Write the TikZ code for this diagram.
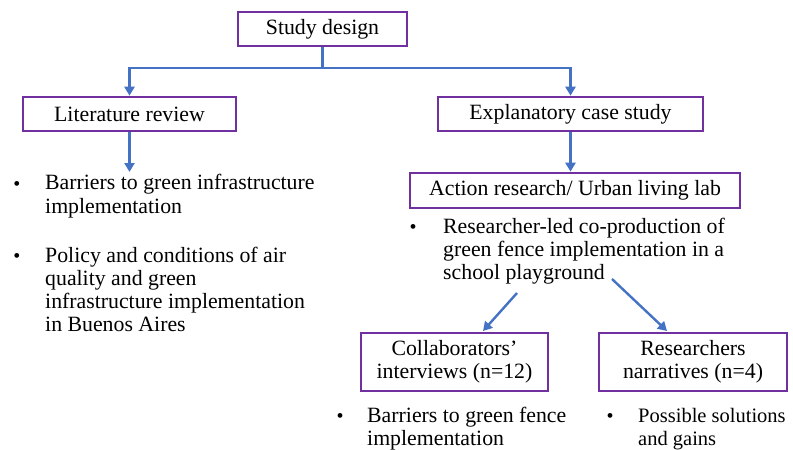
\documentclass[tikz,border=0pt]{standalone}
\usepackage{fontspec}
\setmainfont{Liberation Serif}
\usetikzlibrary{arrows.meta}
\definecolor{boxpurple}{HTML}{7030A0}
\definecolor{arrowblue}{HTML}{4472C4}
\tikzset{
  box/.style={draw=boxpurple, line width=2.6pt, align=center, inner sep=0pt, font=\fontsize{21.8}{23}\selectfont},
  conn/.style={draw=arrowblue, line width=2.4pt},
  arr/.style={conn, -{Triangle[length=9pt,width=10pt]}},
  btext/.style={anchor=base west, align=left, inner sep=0pt, font=\fontsize{21.8}{23.2}\selectfont},
  bdot/.style={anchor=base, inner sep=0pt, font=\fontsize{20}{23}\selectfont}
}
\begin{document}
\begin{tikzpicture}[x=1pt,y=-1pt]
\useasboundingbox (0,0) rectangle (793,450);
% boxes
\node[box, minimum width=169pt, minimum height=34pt] (sd) at (322.5,29) {Study design};
\node[box, minimum width=213pt, minimum height=34pt] (lit) at (129.5,114) {Literature review};
\node[box, minimum width=265pt, minimum height=34pt] (exp) at (570.5,114) {Explanatory case study};
\node[box, minimum width=330pt, minimum height=35pt] (act) at (575,190.5) {Action research/ Urban living lab};
\node[box, minimum width=187pt, minimum height=58pt] (col) at (454.5,362) {Collaborators’\\interviews (n=12)};
\node[box, minimum width=188pt, minimum height=58pt] (res) at (693,362) {Researchers\\narratives (n=4)};
% bullet texts (anchored at the baseline of their last line)
\node[bdot] (l1d) at (17,190) {•};
\node[btext] (l1) at (45,213) {Barriers to green infrastructure\\implementation};
\node[bdot] (l2d) at (17,262) {•};
\node[btext] (l2) at (45,331.6) {Policy and conditions of air\\quality and green\\infrastructure implementation\\in Buenos Aires};
\node[bdot] (a1d) at (413,233) {•};
\node[btext] (a1) at (443,279.4) {Researcher-led co-production of\\green fence implementation in a\\school playground};
\node[bdot] (c1d) at (340,422) {•};
\node[btext] (c1) at (367,445.2) {Barriers to green fence\\implementation};
\node[bdot] (r1d) at (610,422) {•};
\node[btext, font=\fontsize{20.5}{23.2}\selectfont] (r1) at (638,445.2) {Possible solutions\\and gains};
% connectors
\coordinate (j) at (322.5,68);
\coordinate (lt) at (129.5,172);
\coordinate (d1s) at (517,293);
\coordinate (d1e) at (483,331);
\coordinate (d2s) at (612,279);
\coordinate (d2e) at (667,331);
\draw[conn] (sd.south) -- (j);
\draw[arr] (j) -| (lit.north);
\draw[arr] (j) -| (exp.north);
\draw[arr] (lit.south) -- (lt);
\draw[arr] (exp.south) -- (exp.south |- act.north);
\draw[arr] (d1s) -- (d1e);
\draw[arr] (d2s) -- (d2e);
\end{tikzpicture}
\end{document}
